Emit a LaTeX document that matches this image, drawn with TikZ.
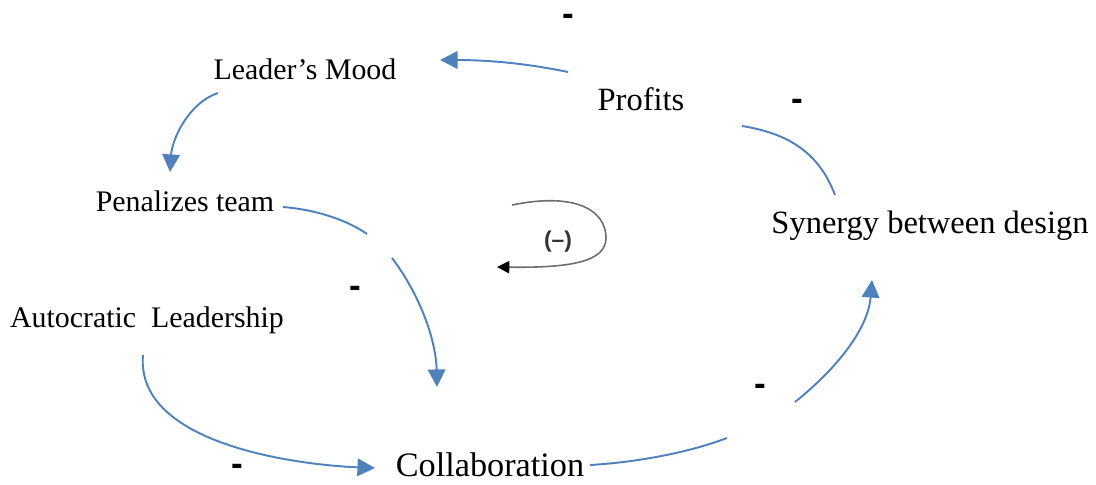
\documentclass[tikz,border=0pt]{standalone}
\usepackage{fontspec}
\setmainfont{Liberation Serif}
\newfontfamily\signfont{Liberation Sans}
\usetikzlibrary{arrows.meta}
\definecolor{flowblue}{RGB}{79,129,189}
\definecolor{loopgray}{RGB}{110,110,110}

\begin{document}
\begin{tikzpicture}[x = 0.02cm, y = -0.02cm,
	factor/.style = {font = \fontsize{17}{20}\selectfont, inner sep = 0pt},
	sign/.style = {font = \signfont\bfseries\fontsize{20}{20}\selectfont, inner sep = 0pt, text height = 11pt, text depth = 0pt},
	flow/.style = {flowblue, line width = 1.1pt, -{Triangle[length = 10pt, width = 10pt]}},
	cycleline/.style = {loopgray, line width = 0.9pt, -{Triangle[black, length = 7pt, width = 7pt]}}]
					\useasboundingbox (0, 0) rectangle (1096, 484);
					\node [factor] (mood) at (305, 69) {Leader’s Mood};
					\node [factor, font = \fontsize{18.5}{20}\selectfont] (profits) at (641, 99) {Profits};
					\node [factor] (penal) at (185, 201) {Penalizes team};
					\node [factor] (autocr) at (147, 320) {Autocratic\ \ Leadership};
					\node [factor, font = \fontsize{19.5}{22}\selectfont] (collab) at (490, 465) {Collaboration};
					\node [factor, font = \fontsize{18.5}{20}\selectfont] (synergy) at (930, 226) {Synergy between design};
					\node [sign] (s1) at (568, 16) {-};
					\node [sign] (s2) at (797, 101) {-};
					\node [sign] (s3) at (355, 288) {-};
					\node [sign] (s4) at (760, 386) {-};
					\node [sign] (s5) at (237, 466) {-};
					\node [font = \signfont\bfseries\fontsize{13}{13}\selectfont, text = black!80, inner sep = 0pt] (loopsign) at (558, 242) {(–)};
					\coordinate (profitsout) at (568, 72);
					\coordinate (moodin) at (440, 60);
					\coordinate (moodout) at (218, 93);
					\coordinate (penalin) at (170, 172);
					\coordinate (penalout) at (283, 207);
					\coordinate (collabtop) at (437, 387);
					\coordinate (autocrout) at (143, 355);
					\coordinate (collabin) at (375, 468);
					\coordinate (collabout) at (590, 465);
					\coordinate (synergyin) at (872, 280);
					\coordinate (synergyout) at (835, 195);
					\coordinate (profitsin) at (742, 126);
					\draw [flow] (profitsout) .. controls (520, 62) and (480, 60) .. (moodin);
					\draw [flow] (moodout) .. controls (188, 103) and (172, 140) .. (penalin);
					\draw [flow] (penalout) .. controls (320, 210) and (350, 222) .. (367, 234)
						(392, 258) .. controls (420, 295) and (436, 340) .. (collabtop);
					\draw [flow] (autocrout) .. controls (135, 445) and (300, 465) .. (collabin);
					\draw [flow] (collabout) .. controls (640, 462) and (690, 452) .. (727, 438)
						(795, 402) .. controls (835, 370) and (868, 330) .. (synergyin);
					\draw [flowblue, line width = 1.1pt] (synergyout) .. controls (818, 150) and (785, 133) .. (profitsin);
					\draw [cycleline] ([shift = {(-46, -37)}]loopsign.center) .. controls (575, 192) and (606, 210) .. (606, 238) .. controls (606, 262) and (570, 268) .. (497, 267);
				\end{tikzpicture}
\end{document}
